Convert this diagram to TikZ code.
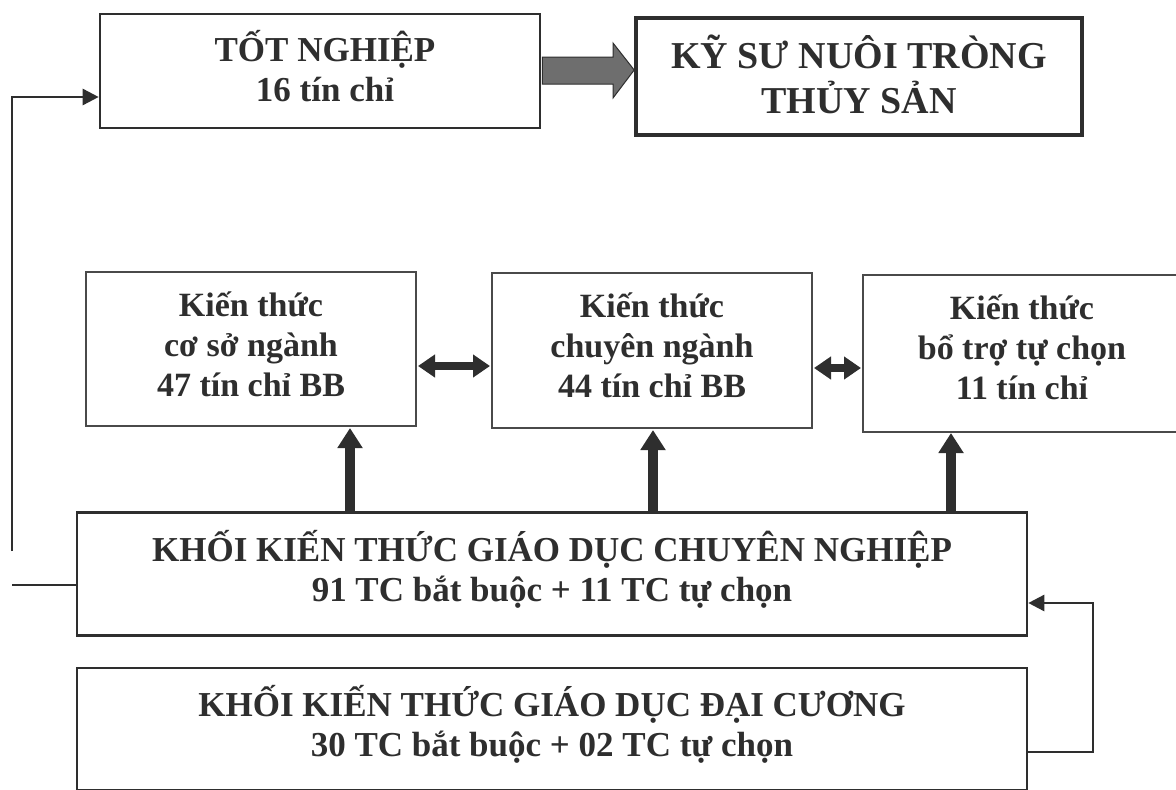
\documentclass[tikz,border=0pt]{standalone}
\usepackage{fontspec}
\setmainfont{Liberation Serif}
\usetikzlibrary{arrows.meta}
\definecolor{ink}{HTML}{2E2E2E}
\definecolor{inkm}{HTML}{4A4A4A}
\definecolor{arrowgray}{HTML}{6E6E6E}
\begin{document}
\begin{tikzpicture}[x=1pt,y=-1pt,
  box/.style={draw=ink, line width=2.6pt, rectangle, inner sep=0pt},
  boxm/.style={box, draw=inkm, line width=2pt},
  txt/.style={inner sep=0pt, align=center, text=ink, font=\bfseries\fontsize{35}{40}\selectfont},
  txtm/.style={txt, font=\bfseries\fontsize{34}{40}\selectfont},
  txtb/.style={txt, font=\bfseries\fontsize{38}{45}\selectfont},
  conn/.style={draw=ink, line width=2.6pt},
  thinhead/.style={-{Triangle[length=16pt,width=16pt]}},
  dbl/.style={draw=ink, line width=8pt, {Triangle[length=17pt,width=22pt]}-{Triangle[length=17pt,width=22pt]}, shorten <=1pt, shorten >=1pt},
  uparr/.style={draw=ink, line width=10pt, -{Triangle[length=20pt,width=24pt]}}
]
\useasboundingbox (0,0) rectangle (1176,790);
\fill[white] (0,0) rectangle (1176,790);

\node[box, minimum width=440pt, minimum height=114pt] (tot) at (320,71) {};
\node[txt] (totT) at ([xshift=5pt,yshift=5pt]tot.center) {TỐT NGHIỆP\\16 tín chỉ};
\node[box, line width=3.6pt, minimum width=446pt, minimum height=117pt] (ky) at (859,76.5) {};
\node[txtb] (kyT) at ([yshift=2pt]ky.center) {KỸ SƯ NUÔI TRÒNG\\THỦY SẢN};

\node[boxm, minimum width=330pt, minimum height=154pt] (k1) at (251,349) {};
\node[txtm] (k1T) at ([yshift=5pt]k1.center) {Kiến thức\\cơ sở ngành\\47 tín chỉ BB};
\node[boxm, minimum width=320pt, minimum height=155pt] (k2) at (652,350.5) {};
\node[txtm] (k2T) at ([yshift=5pt]k2.center) {Kiến thức\\chuyên ngành\\44 tín chỉ BB};
\node[boxm, minimum width=318pt, minimum height=157pt] (k3) at (1022,353.5) {};
\node[txtm] (k3T) at ([yshift=6pt]k3.center) {Kiến thức\\bổ trợ tự chọn\\11 tín chỉ};

\node[box, minimum width=950pt, minimum height=123pt] (cn) at (552,574) {};
\node[txt] (cnT) at ([yshift=5pt]cn.center) {KHỐI KIẾN THỨC GIÁO DỤC CHUYÊN NGHIỆP\\91 TC bắt buộc + 11 TC tự chọn};
\node[box, minimum width=950pt, minimum height=122pt] (dc) at (552,729) {};
\node[txt] (dcT) at ([yshift=5pt]dc.center) {KHỐI KIẾN THỨC GIÁO DỤC ĐẠI CƯƠNG\\30 TC bắt buộc + 02 TC tự chọn};

% big gray arrow
\fill[arrowgray, draw=ink, line width=1pt]
  ([xshift=1pt]tot.east |- 0,57) -- (613,57) -- (613,43) -- (ky.west |- 0,70) -- (613,98) -- (613,84) -- ([xshift=1pt]tot.east |- 0,84) -- cycle;

% double arrows
\draw[dbl] (k1.east |- 0,366) -- (k2.west |- 0,366);
\draw[dbl] (k2.east |- 0,368) -- (k3.west |- 0,368);

% up arrows
\draw[uparr] (350,511) -- (350,428);
\draw[uparr] (653,511) -- (653,430);
\draw[uparr] (951,511) -- (951,433);

% left connectors
\coordinate (lbot) at (12,551);
\coordinate (ltop) at (12,97);
\draw[conn, thinhead] (lbot) -- (ltop) -- (tot.west |- ltop);
\coordinate (lstub) at (12,585);
\draw[conn] (lstub) -- (cn.west |- lstub);

% right connector
\coordinate (rb) at (1093,752);
\coordinate (rt) at (1093,603);
\draw[conn, thinhead] (dc.east |- rb) -- (rb) -- (rt) -- (cn.east |- rt);
\end{tikzpicture}
\end{document}
